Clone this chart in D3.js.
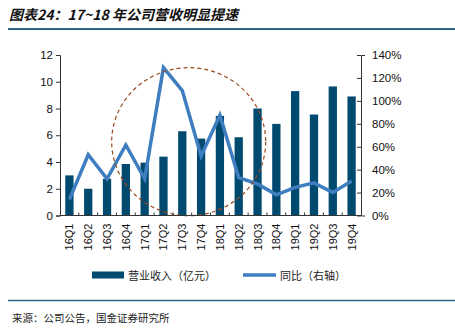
<!DOCTYPE html>
<meta charset="utf-8">
<script src="https://d3js.org/d3.v7.min.js"></script>
<style>
  body { margin: 0; background: #fff; }
  text { font-family: "Liberation Sans", Arial, sans-serif; }
  .cn { font-family: "Noto Sans CJK SC", sans-serif; }
</style>
<div id="chart"></div>
<script>

// quarterly revenue (100m yuan) and yoy growth
var quarters = ["16Q1","16Q2","16Q3","16Q4","17Q1","17Q2","17Q3","17Q4",
                "18Q1","18Q2","18Q3","18Q4","19Q1","19Q2","19Q3","19Q4"];
var revenue = [3.0, 2.0, 2.75, 3.85, 3.95, 4.4, 6.3, 5.75,
               7.45, 5.85, 8.0, 6.85, 9.3, 7.55, 9.65, 8.9];
var growth = [0.14, 0.53, 0.32, 0.615, 0.32, 1.29, 1.09, 0.52,
              0.875, 0.33, 0.275, 0.18, 0.245, 0.285, 0.20, 0.30];
var leftTicks = [0, 2, 4, 6, 8, 10, 12];
var rightTicks = [0, 0.2, 0.4, 0.6, 0.8, 1.0, 1.2, 1.4];

var W = 455, H = 332;
var margin = {top: 55, right: 94, bottom: 116.5, left: 60};
var width = W - margin.left - margin.right,
    height = H - margin.top - margin.bottom;

var root = d3.select("#chart").append("svg")
    .attr("width", W).attr("height", H);

// heading
root.append("text")
    .attr("class", "cn")
    .attr("x", 9).attr("y", 20)
    .attr("font-size", 14).attr("font-weight", "bold").attr("font-style", "italic")
    .attr("fill", "#111")
    .text("图表24：17~18 年公司营收明显提速");
root.append("line")
    .attr("x1", 8).attr("x2", 455).attr("y1", 29).attr("y2", 29)
    .attr("stroke", "#2C6587").attr("stroke-width", 2);

var svg = root.append("g")
    .attr("transform", "translate(" + margin.left + "," + margin.top + ")");

var x = d3.scaleBand().domain(quarters).range([0, width]).paddingInner(0.56).paddingOuter(0.28);
var y = d3.scaleLinear().domain([0, 12]).range([height, 0]);
var y2 = d3.scaleLinear().domain([0, 1.4]).range([height, 0]);

// bars
svg.selectAll("rect.bar")
  .data(revenue)
  .enter().append("rect")
    .attr("class", "bar")
    .attr("x", function(d, i) { return x(quarters[i]); })
    .attr("y", function(d) { return y(d); })
    .attr("width", x.bandwidth())
    .attr("height", function(d) { return height - y(d); })
    .attr("fill", "#004A70");

// growth line
var line = d3.line()
    .x(function(d, i) { return x(quarters[i]) + x.bandwidth() / 2; })
    .y(function(d) { return y2(d); });
svg.append("path")
    .datum(growth)
    .attr("d", line)
    .attr("fill", "none")
    .attr("stroke", "#3E7EC0")
    .attr("stroke-width", 3.5)
    .attr("stroke-linejoin", "miter");

// dashed ring around the 17Q1-18Q2 stretch
var cx = (x("17Q3") + x("17Q4")) / 2 + x.bandwidth() / 2 - 3;
svg.append("ellipse")
    .attr("cx", cx)
    .attr("cy", y(5.52))
    .attr("rx", 77)
    .attr("ry", 74)
    .attr("fill", "none")
    .attr("stroke", "#9A4A1E")
    .attr("stroke-width", 1.2)
    .attr("stroke-dasharray", "4,3");

// axes
var xAxis = svg.append("g")
    .attr("transform", "translate(0," + height + ")");
xAxis.append("line")
    .attr("x1", 0).attr("x2", width)
    .attr("stroke", "#333").attr("stroke-width", 1);
var step = x.step();
xAxis.selectAll("line.tk")
  .data(d3.range(1, quarters.length))
  .enter().append("line")
    .attr("class", "tk")
    .attr("x1", function(d) { return x(quarters[d]) - (step - x.bandwidth()) / 2; })
    .attr("x2", function(d) { return x(quarters[d]) - (step - x.bandwidth()) / 2; })
    .attr("y1", 0).attr("y2", -3)
    .attr("stroke", "#333");
xAxis.selectAll("text")
  .data(quarters)
  .enter().append("text")
    .attr("transform", function(d) {
      return "translate(" + (x(d) + x.bandwidth() / 2 + 4) + ",8) rotate(-90)";
    })
    .attr("text-anchor", "end")
    .attr("font-size", 11)
    .attr("fill", "#111")
    .text(function(d) { return d; });

var yAxis = svg.append("g")
    .call(d3.axisLeft(y).tickValues(leftTicks).tickSize(4).tickSizeOuter(4));
yAxis.select(".domain").attr("stroke", "#333");
yAxis.selectAll(".tick line").attr("stroke", "#333");
yAxis.selectAll(".tick text")
    .attr("x", -7).attr("font-size", 11.5).attr("fill", "#111");

var yAxis2 = svg.append("g")
    .attr("transform", "translate(" + width + ",0)")
    .call(d3.axisRight(y2).tickValues(rightTicks).tickFormat(d3.format(".0%")).tickSize(4).tickSizeOuter(4));
yAxis2.select(".domain").attr("stroke", "#333");
yAxis2.selectAll(".tick line").attr("stroke", "#333").attr("x2", -4);
yAxis2.selectAll(".tick text")
    .attr("x", 11).attr("font-size", 11.5).attr("fill", "#111");

// legend
var legend = root.append("g").attr("transform", "translate(0,275)");
legend.append("rect")
    .attr("x", 92).attr("y", -3.5).attr("width", 32).attr("height", 7)
    .attr("fill", "#004A70");
legend.append("text")
    .attr("class", "cn")
    .attr("x", 128).attr("y", 4.5)
    .attr("font-size", 11).attr("fill", "#222")
    .text("营业收入（亿元）");
legend.append("line")
    .attr("x1", 243).attr("x2", 276).attr("y1", 0).attr("y2", 0)
    .attr("stroke", "#3E7EC0").attr("stroke-width", 3.5);
legend.append("text")
    .attr("class", "cn")
    .attr("x", 280).attr("y", 4.5)
    .attr("font-size", 11).attr("fill", "#222")
    .text("同比（右轴）");

// footer
root.append("line")
    .attr("x1", 8).attr("x2", 455).attr("y1", 300.5).attr("y2", 300.5)
    .attr("stroke", "#2C6587").attr("stroke-width", 1.5);
root.append("text")
    .attr("class", "cn")
    .attr("x", 12).attr("y", 322)
    .attr("font-size", 10.5).attr("fill", "#222")
    .text("来源：公司公告，国金证券研究所");

</script>
